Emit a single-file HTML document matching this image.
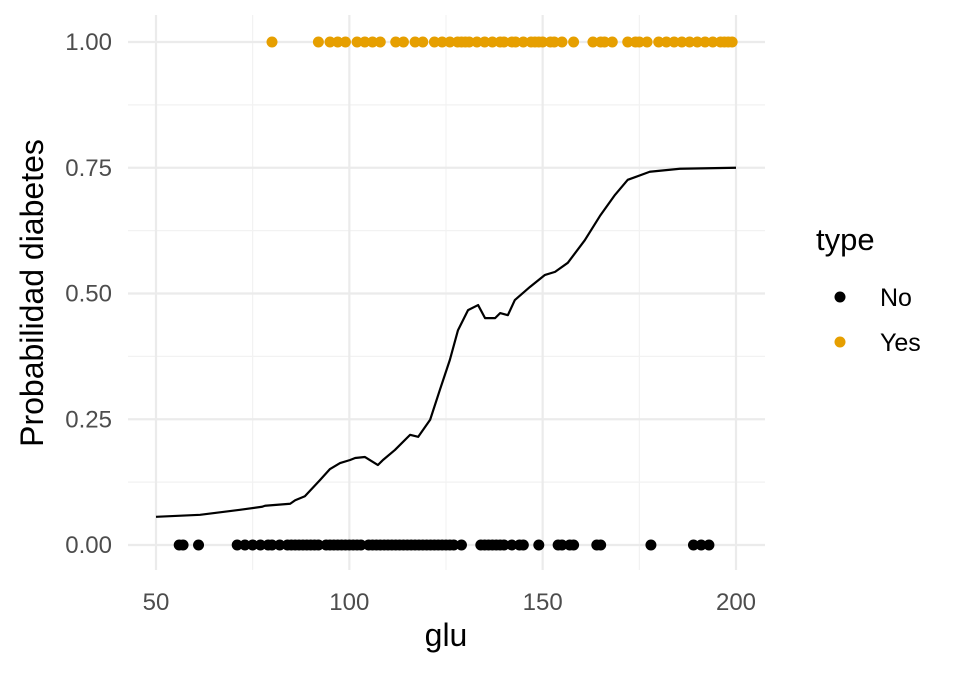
<!DOCTYPE html>
<html><head><meta charset="utf-8"><style>body{margin:0;background:#fff}svg{font-family:"Liberation Sans",sans-serif}</style></head>
<body>
<svg id="chart" width="960" height="672"></svg>
<script>
const yesGlu=[80,92,95,97,99,102,104,106,108,112,114,117,119,122,124,126,128,129,130,131,133,135,137,139,140,142,143,145,147,148,149,150,152,153,155,158,163,165,166,168,172,174,175,177,180,182,184,186,188,190,192,194,196,197,198,199];
const noGlu=[56,57,61,71,73,75,77,79,80,82,84,85,86,87,88,89,90,91,92,94,95,96,97,98,99,100,101,102,103,105,106,107,108,109,110,111,112,113,114,115,116,117,118,119,120,121,122,123,124,125,126,127,129,134,135,136,137,138,139,140,142,144,145,149,154,155,157,158,164,165,178,189,191,193];
const curveGlu=[50,61.4,71.7,77.4,78.2,84.7,86,88.5,92.4,95,97.6,100.2,101.5,104,107.4,108.7,111.8,115.7,117.8,120.9,123.4,126,128.1,130.7,133.3,135.1,137.7,139,141,142.8,146.7,150.6,153.2,156.5,160.9,164.8,168.7,172,177.7,185.5,200];
const curveProb=[0.056,0.060,0.070,0.076,0.078,0.082,0.089,0.097,0.129,0.151,0.163,0.169,0.173,0.175,0.159,0.169,0.189,0.219,0.215,0.249,0.308,0.368,0.427,0.467,0.477,0.451,0.451,0.461,0.457,0.487,0.513,0.537,0.543,0.561,0.606,0.654,0.696,0.726,0.742,0.748,0.750];
const xTicks=[50,100,150,200];
const yTicks=[0,0.25,0.5,0.75,1];
const yLabels=["0.00","0.25","0.50","0.75","1.00"];
const svg=document.getElementById('chart');
const NS='http://www.w3.org/2000/svg';
const X=v=>156+(v-50)*580/150;
const Y=v=>545-v*503;
function mk(t,a,txt){const e=document.createElementNS(NS,t);for(const k in a)e.setAttribute(k,a[k]);if(txt!=null)e.textContent=txt;svg.appendChild(e);return e;}
[75,125,175].forEach(v=>{const l=mk('line',{x1:X(v),x2:X(v),y1:15,y2:570,stroke:'#f2f2f2','stroke-width':1.2});

});
[0.125,0.375,0.625,0.875].forEach(v=>{const l=mk('line',{x1:128,x2:765,y1:Y(v),y2:Y(v),stroke:'#f2f2f2','stroke-width':1.2});

});
xTicks.forEach(v=>{const l=mk('line',{x1:X(v),x2:X(v),y1:15,y2:570,stroke:'#ebebeb','stroke-width':2.2});


const t=mk('text',{x:X(v),y:610,'text-anchor':'middle','font-size':24,fill:'#4d4d4d'},String(v));

});
yTicks.forEach((v,i)=>{const l=mk('line',{x1:128,x2:765,y1:Y(v),y2:Y(v),stroke:'#ebebeb','stroke-width':2.2});


const t=mk('text',{x:112,y:Y(v)+8,'text-anchor':'end','font-size':24,fill:'#4d4d4d'},yLabels[i]);

});
const p=mk('path',{d:curveGlu.map((g,i)=>(i?'L':'M')+X(g)+','+Y(curveProb[i])).join(''),fill:'none',stroke:'#000','stroke-width':2.2,'stroke-linejoin':'round'});


noGlu.forEach(g=>{const c=mk('circle',{cx:X(g),cy:Y(0),r:5.5,fill:'#000'});

});
yesGlu.forEach(g=>{const c=mk('circle',{cx:X(g),cy:Y(1),r:5.5,fill:'#E69F00'});

});
let t=mk('text',{x:446,y:646,'text-anchor':'middle','font-size':32,fill:'#000'},'glu');


t=mk('text',{x:0,y:0,'text-anchor':'middle','font-size':32,fill:'#000',transform:'translate(43,293) rotate(-90)'},'Probabilidad diabetes');


t=mk('text',{x:816,y:250,'font-size':31,fill:'#000'},'type');


[['No','#000',297],['Yes','#E69F00',342]].forEach(([n,c,y])=>{
const d=mk('circle',{cx:840,cy:y,r:5.5,fill:c});


const tt=mk('text',{x:880,y:y+9,'font-size':25,fill:'#000'},n);

});
</script>
</body></html>
